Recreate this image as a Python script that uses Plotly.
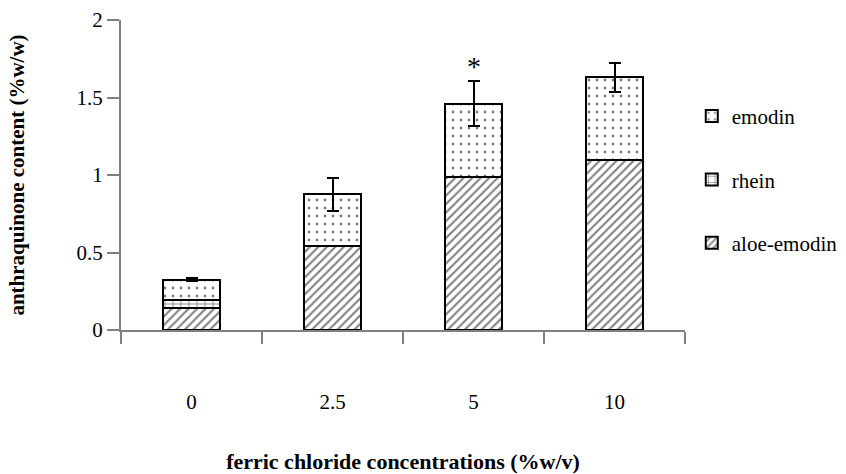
import plotly.graph_objects as go

categories = ["0", "2.5", "5", "10"]
aloe_emodin = [0.145, 0.545, 0.985, 1.10]
rhein = [0.05, 0.0, 0.0, 0.0]
emodin = [0.13, 0.33, 0.475, 0.53]
total_err = [0.01, 0.105, 0.145, 0.095]
y_ticks = [0, 0.5, 1, 1.5, 2]
y_tick_text = ["0", "0.5", "1", "1.5", "2"]
star_category = "5"
star_value = 1.70

FONT = "Times New Roman, Liberation Serif, serif"

fig = go.Figure()
fig.add_trace(go.Bar(
    x=categories, y=aloe_emodin, name="aloe-emodin", legendgroup="a", legendrank=3,
    marker=dict(color="white", line=dict(color="black", width=2),
                pattern=dict(shape="/", fgcolor="black", bgcolor="white", size=6, solidity=0.35)),
))
fig.add_trace(go.Bar(
    x=categories, y=rhein, name="rhein", legendgroup="r", legendrank=2,
    marker=dict(color="white", line=dict(color="black", width=2),
                pattern=dict(shape="+", fgcolor="black", bgcolor="white", size=8, solidity=0.2)),
))
fig.add_trace(go.Bar(
    x=categories, y=emodin, name="emodin", legendgroup="e", legendrank=1,
    marker=dict(color="white", line=dict(color="black", width=2),
                pattern=dict(shape=".", fgcolor="black", bgcolor="white", size=8, solidity=0.1)),
    error_y=dict(type="data", array=total_err, visible=True, color="black", thickness=2, width=6),
))

fig.add_annotation(x=categories.index(star_category), y=star_value, text="*", showarrow=False,
                   xref="x", yref="y",
                   font=dict(family=FONT, size=28, color="black"), yanchor="middle")

fig.update_layout(
    barmode="stack",
    bargap=0.6,
    width=846, height=474,
    margin=dict(l=121, r=161, t=20, b=144, autoexpand=False),
    plot_bgcolor="white", paper_bgcolor="white",
    font=dict(family=FONT, size=21, color="black"),
    showlegend=True,
    legend=dict(x=1.012, xanchor="left", y=0.755, yanchor="top", traceorder="grouped",
                tracegroupgap=33, font=dict(family=FONT, size=21), bgcolor="rgba(0,0,0,0)"),
    xaxis=dict(
        type="category", range=[-0.5, 3.5], automargin=False,
        showline=True, linecolor="#808080", linewidth=2,
        ticks="outside", tickson="boundaries", ticklen=12, tickcolor="#808080", tickwidth=2,
        ticklabelstandoff=52,
        showgrid=False, zeroline=False,
        title=dict(text="<b>ferric chloride concentrations (%w/v)</b>", standoff=44,
                   font=dict(family=FONT, size=22)),
    ),
    yaxis=dict(
        range=[0, 2], tickvals=y_ticks, ticktext=y_tick_text, automargin=False,
        showline=True, linecolor="#808080", linewidth=2,
        ticks="outside", ticklen=12, tickcolor="#808080", tickwidth=2,
        showgrid=False, zeroline=False,
        title=dict(text="<b>anthraquinone content (%w/w)</b>", standoff=46,
                   font=dict(family=FONT, size=21)),
    ),
)

fig.write_html("out.html")
